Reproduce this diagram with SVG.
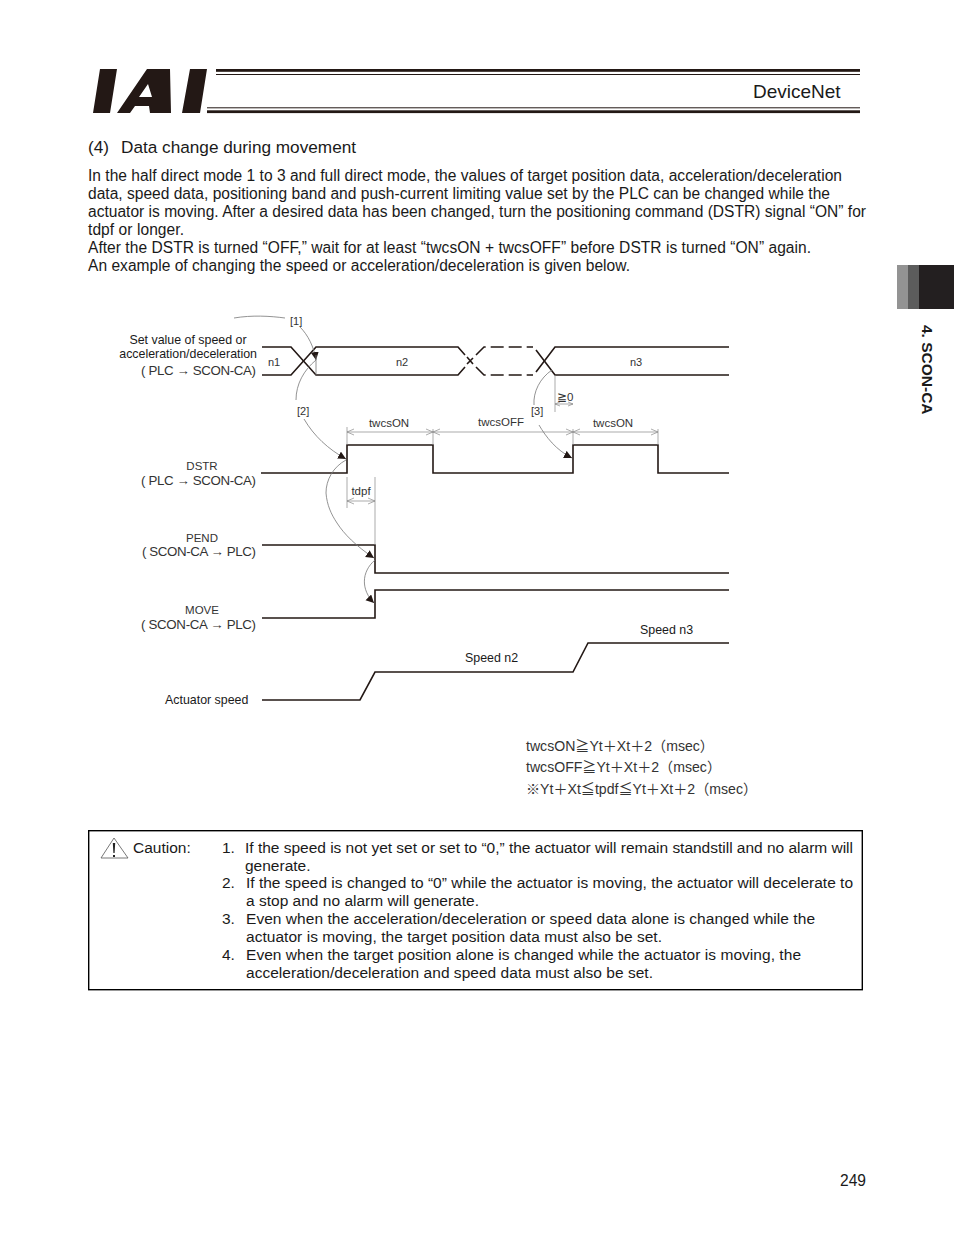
<svg xmlns="http://www.w3.org/2000/svg" width="954" height="1235" viewBox="0 0 954 1235">
<style>
text{font-family:"Liberation Sans",Arial,sans-serif;fill:#1a1a1a}
.b{font-size:15.57px}
.k{font-size:15.5px}
.t17{font-size:17.2px}
.s{font-size:12.4px}
.d{font-size:11.5px;fill:#333}
.n{font-size:11px;fill:#333}
.m{font-size:13.3px;fill:#333}
.f{font-size:14.1px;fill:#333;font-family:"Liberation Sans","Noto Sans CJK JP",sans-serif}
.e{text-anchor:end}
.c{text-anchor:middle}
.w{fill:none;stroke:#231815;stroke-width:1.6}
.h{fill:none;stroke:#231815;stroke-width:1.6;stroke-dasharray:13 5}
.g{fill:none;stroke:#777;stroke-width:.8}
.a{fill:none;stroke:#777;stroke-width:.8;marker-end:url(#ah)}
.t{fill:none;stroke:#888;stroke-width:.7}
</style>
<defs>
<marker id="ah" markerUnits="userSpaceOnUse" markerWidth="10" markerHeight="10" refX="8" refY="4" orient="auto"><path d="M0 0L8 4L0 8Z" fill="#231815"/></marker>
</defs>
<rect width="954" height="1235" fill="#fff"/>
<g id="header">
<path d="M100 69H117L110 113H93Z M190 69H207L200 113H182Z" fill="#231815"/>
<path fill-rule="evenodd" d="M147 69H170L171 113H150L149 106H135L130 113H117ZM148 84L152 97H139Z" fill="#231815"/>
<rect x="216" y="69" width="644" height="2.8" fill="#231815"/>
<rect x="216" y="74" width="644" height="1" fill="#231815"/>
<rect x="207" y="107.300" width="653" height="1" fill="#231815"/>
<rect x="207" y="110.300" width="653" height="2.800" fill="#231815"/>
<text x="753" y="98" font-size="19">DeviceNet</text>
</g>
<g id="side-tab">
<rect x="897" y="265" width="11" height="44" fill="#939393"/>
<rect x="908" y="265" width="11" height="44" fill="#5c5c5c"/>
<rect x="919" y="265" width="35" height="44" fill="#231f20"/>
<text transform="translate(922 325) rotate(90)" font-size="15.500" font-weight="bold">4. SCON-CA</text>
</g>
<g id="intro">
<text class="t17" x="88" y="153">(4)</text>
<text class="t17" x="121" y="153">Data change during movement</text>
<text class="b" x="88" y="181" textLength="754">In the half direct mode 1 to 3 and full direct mode, the values of target position data, acceleration/deceleration</text>
<text class="b" x="88" y="199" textLength="742">data, speed data, positioning band and push-current limiting value set by the PLC can be changed while the</text>
<text class="b" x="88" y="217" textLength="778">actuator is moving. After a desired data has been changed, turn the positioning command (DSTR) signal “ON” for</text>
<text class="b" x="88" y="235" textLength="96">tdpf or longer.</text>
<text class="b" x="88" y="253" textLength="723">After the DSTR is turned “OFF,” wait for at least “twcsON + twcsOFF” before DSTR is turned “ON” again.</text>
<text class="b" x="88" y="271" textLength="542">An example of changing the speed or acceleration/deceleration is given below.</text>
</g>
<g id="signal-labels">
<text class="s c" x="188" y="344">Set value of speed or</text>
<text class="s e" x="257" y="358">acceleration/deceleration</text>
<text class="m" x="141" y="375" textLength="115">( PLC → SCON-CA)</text>
<text class="d c" x="202" y="470">DSTR</text>
<text class="m" x="141" y="485" textLength="115">( PLC → SCON-CA)</text>
<text class="d c" x="202" y="542">PEND</text>
<text class="m" x="142" y="556" textLength="114">( SCON-CA → PLC)</text>
<text class="d c" x="202" y="614">MOVE</text>
<text class="m" x="141" y="629" textLength="115">( SCON-CA → PLC)</text>
<text class="s" x="165" y="704">Actuator speed</text>
</g>
<g id="waveforms">
<path class="w" d="M262 347H291L316 375H458L465 367"/>
<path class="w" d="M262 375H291L316 347H458L465 355"/>
<path class="w" d="M467 357L473 364M473 358L467 364"/>
<path class="h" d="M476 367L484 375H533"/>
<path class="h" d="M476 355L484 347H533"/>
<path class="w" d="M536 350L555 375H729"/>
<path class="w" d="M536 372L555 347H729"/>
<path class="w" d="M261 473H347V445H433V473H573V445H658V473H729"/>
<path class="w" d="M262 545H375V573H729"/>
<path class="w" d="M262 618H375V590H729"/>
<path class="w" d="M262 700H360L375 672H573L588 643H729"/>
</g>
<g id="dimensions">
<path class="t" d="M347 427V445M433 429V445M573 429V445M658 429V445M347 477V508M375 477V545M555 375V412"/>
<path class="t" d="M347 432H658M347 432l7-3M347 432l7 3M433 432l-7-3M433 432l-7 3M433 432l7-3M433 432l7 3M573 432l-7-3M573 432l-7 3M573 432l7-3M573 432l7 3M658 432l-7-3M658 432l-7 3"/>
<path class="t" d="M347 501H375M347 501l7-3M347 501l7 3M375 501l-7-3M375 501l-7 3"/>
<path class="t" d="M555 404H573M555 404l5-2M555 404l5 2M573 404l-5-2M573 404l-5 2"/>
<text class="d c" x="389" y="427">twcsON</text>
<text class="d c" x="501" y="426">twcsOFF</text>
<text class="d c" x="613" y="427">twcsON</text>
<text class="d c" x="361" y="495">tdpf</text>
<text class="d" x="557" y="401">≧0</text>
<text class="n" x="268" y="366">n1</text>
<text class="n c" x="402" y="366">n2</text>
<text class="n c" x="636" y="366">n3</text>
</g>
<g id="connectors">
<path class="g" d="M234 318C252 315 270 316 285 318"/>
<path class="a" d="M300 327C308 335 314 347 316 360"/>
<path class="g" d="M296 400C296 384 304 370 316 360"/>
<path class="g" d="M316 355V375"/>
<path class="a" d="M304 419C314 436 328 449 346 459"/>
<path class="a" d="M346 460C333 467 326 480 326 493C327 505 331 514 337 523C344 534 356 546 374 558"/>
<path class="a" d="M375 560C361 572 361 590 374 603"/>
<path class="g" d="M552 370C540 378 533 392 534 405"/>
<path class="a" d="M539 425C546 437 556 450 572 458"/>
</g>
<g id="step-labels">
<text class="n" x="290" y="325">[1]</text>
<text class="n" x="297" y="415">[2]</text>
<text class="n" x="531" y="415">[3]</text>
<text class="s" x="640" y="634">Speed n3</text>
<text class="s" x="465" y="662">Speed n2</text>
</g>
<g id="formulas">
<text class="f" x="526" y="751">twcsON≧Yt＋Xt＋2（msec）</text>
<text class="f" x="526" y="772">twcsOFF≧Yt＋Xt＋2（msec）</text>
<text class="f" x="526" y="794">※Yt＋Xt≦tpdf≦Yt＋Xt＋2（msec）</text>
</g>
<g id="caution">
<rect x="88.700" y="830.700" width="773.600" height="159" fill="none" stroke="#000" stroke-width="1.400"/>
<path d="M114 838L101 858H128Z" fill="#fff" stroke="#555" stroke-width=".8"/>
<path d="M112.800 843H115.200L114.600 853H113.400ZM113 855H115V857H113Z" fill="#222"/>
<text class="k" x="133" y="853">Caution:</text>
<text class="k" x="222" y="853">1.</text>
<text class="k" x="245" y="853" textLength="608">If the speed is not yet set or set to “0,” the actuator will remain standstill and no alarm will</text>
<text class="k" x="245" y="871">generate.</text>
<text class="k" x="222" y="888">2.</text>
<text class="k" x="246" y="888" textLength="607">If the speed is changed to “0” while the actuator is moving, the actuator will decelerate to</text>
<text class="k" x="246" y="906" textLength="233">a stop and no alarm will generate.</text>
<text class="k" x="222" y="924">3.</text>
<text class="k" x="246" y="924" textLength="569">Even when the acceleration/deceleration or speed data alone is changed while the</text>
<text class="k" x="246" y="942" textLength="416">actuator is moving, the target position data must also be set.</text>
<text class="k" x="222" y="960">4.</text>
<text class="k" x="246" y="960" textLength="555">Even when the target position alone is changed while the actuator is moving, the</text>
<text class="k" x="246" y="978" textLength="407">acceleration/deceleration and speed data must also be set.</text>
</g>
<g id="page-number"><text class="b" x="840" y="1186">249</text></g>
</svg>
